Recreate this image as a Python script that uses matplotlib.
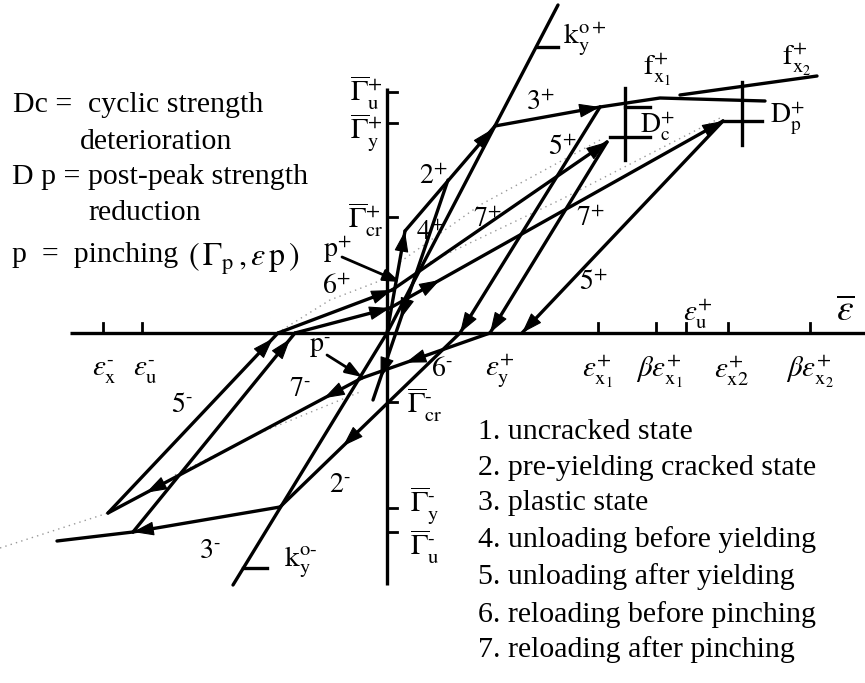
"""Hysteresis rule schematic: stress-strain loops with stage labels."""

import matplotlib

matplotlib.use("Agg")

import matplotlib.pyplot as plt
import numpy as np

plt.rcParams["font.family"] = "Liberation Serif"
plt.rcParams["mathtext.fontset"] = "stix"

# drawing units: normalised strain to the right, normalised stress up,
# origin where the two axes cross

# initial stiffness lines
stiff_pos = [(0.0, 0.0), (1.71, 3.28)]
stiff_neg = [(0.0, 0.0), (-1.54, -2.52)]

# positive side
uncracked_p = [(0.0, 0.0), (0.18, 1.02)]
cracked_p = [(0.18, 1.02), (1.08, 2.07)]
unload_pre_yield_p = [(0.61, 1.53), (-0.14, -0.67)]
plastic_p = [(1.08, 2.07), (2.13, 2.26)]
envelope_p = [(2.13, 2.26), (2.73, 2.35), (3.78, 2.32)]
envelope_fx2 = [(2.93, 2.38), (4.30, 2.57)]
unload_p_a = [(2.13, 2.26), (0.73, 0.0)]
unload_p_b = [(2.20, 1.91), (1.03, 0.0)]
unload_p_c = [(3.36, 2.12), (1.35, 0.0)]
reload_pre_pinch_p_a = [(-1.09, 0.0), (0.05, 0.43)]
reload_pre_pinch_p_b = [(-0.92, 0.0), (0.03, 0.25)]
reload_post_pinch_p_a = [(0.05, 0.43), (2.20, 1.91)]
reload_post_pinch_p_b = [(0.03, 0.25), (3.36, 2.12)]

# negative side
cracked_n = [(0.73, 0.0), (-1.07, -1.74)]
reload_pre_pinch_n = [(1.03, 0.0), (-0.25, -0.45)]
reload_post_pinch_n = [(-0.25, -0.45), (-2.79, -1.80)]
plastic_n = [(-1.07, -1.74), (-2.54, -1.99)]
envelope_n = [(-2.54, -1.99), (-3.30, -2.08)]
unload_n_a = [(-2.79, -1.80), (-1.09, 0.0)]
unload_n_b = [(-2.54, -1.99), (-0.92, 0.0)]

# faint dotted envelopes
dotted_paths = [
    [(-3.87, -2.15), (-2.79, -1.80)],
    [(-2.12, -1.42), (-1.25, -0.99), (-0.27, -0.59)],
    [(-1.05, 0.03), (-0.57, 0.33), (0.08, 0.58)],
    [(0.13, 0.71), (0.93, 1.28), (2.13, 1.93)],
    [(0.43, 0.71), (1.73, 1.33), (3.33, 2.15)],
]

# (path, fractions along it where an arrowhead tip sits)
solid_paths = [
    (stiff_pos, []),
    (stiff_neg, []),
    (uncracked_p, [1.0]),
    (cracked_p, [0.97]),
    (unload_pre_yield_p, [0.63, 0.9]),
    (plastic_p, [1.0]),
    (envelope_p, []),
    (envelope_fx2, []),
    (unload_p_a, [1.0]),
    (unload_p_b, [1.0]),
    (unload_p_c, [1.0]),
    (reload_pre_pinch_p_a, [1.0]),
    (reload_pre_pinch_p_b, [1.0]),
    (reload_post_pinch_p_a, [1.0]),
    (reload_post_pinch_p_b, [0.15, 1.0]),
    (cracked_n, [0.65]),
    (reload_pre_pinch_n, [0.66]),
    (reload_post_pinch_n, [0.15, 0.85]),
    (plastic_n, [1.0]),
    (envelope_n, []),
    (unload_n_a, [0.97]),
    (unload_n_b, [0.97]),
]

# axis ticks
strain_ticks = [-2.84, -2.45, 2.11, 2.69, 2.99, 3.41, 4.23]
stress_ticks = [2.41, 2.10, 1.16, -0.69, -1.75, -1.99]

strain_labels = [
    (-2.83, r"$\varepsilon_{\mathrm{x}}^{\text{-}}$"),
    (-2.42, r"$\varepsilon_{\mathrm{u}}^{\text{-}}$"),
    (1.13, r"$\varepsilon_{\mathrm{y}}^{+}$"),
    (2.11, r"$\varepsilon_{\mathrm{x}_1}^{+}$"),
    (2.72, r"$\beta\varepsilon_{\mathrm{x}_1}^{+}$"),
    (3.44, r"$\varepsilon_{\mathrm{x2}}^{+}$"),
    (4.23, r"$\beta\varepsilon_{\mathrm{x}_2}^{+}$"),
]
stress_labels_left = [
    (2.40, r"$\overline{\Gamma}_{\mathrm{u}}^{+}$"),
    (2.01, r"$\overline{\Gamma}_{\mathrm{y}}^{+}$"),
    (1.13, r"$\overline{\Gamma}_{\mathrm{cr}}^{+}$"),
]
stress_labels_right = [
    (-0.72, r"$\overline{\Gamma}_{\mathrm{cr}}^{\text{-}}$"),
    (-1.72, r"$\overline{\Gamma}_{\mathrm{y}}^{\text{-}}$"),
    (-2.14, r"$\overline{\Gamma}_{\mathrm{u}}^{\text{-}}$"),
]

stage_labels = [
    (1.53, 2.30, "3", "+"), (0.46, 1.56, "2", "+"), (0.43, 1.00, "4", "+"),
    (1.75, 1.85, "5", "+"), (1.00, 1.13, "7", "+"), (2.03, 1.14, "7", "+"),
    (2.06, 0.50, "5", "+"), (-0.51, 0.46, "6", "+"), (0.55, -0.37, "6", r"\text{-}"),
    (-0.87, -0.56, "7", r"\text{-}"), (-2.05, -0.72, "5", r"\text{-}"),
    (-0.47, -1.53, "2", r"\text{-}"), (-1.77, -2.19, "3", r"\text{-}"),
]

notes = [
    "1. uncracked state",
    "2. pre-yielding cracked state",
    "3. plastic state",
    "4. unloading before yielding",
    "5. unloading after yielding",
    "6. reloading before pinching",
    "7. reloading after pinching",
]
note_rows = [-0.99, -1.35, -1.70, -2.07, -2.44, -2.82, -3.17]

LW = 2.4
INK = "black"


def arrow_tip(ax, path, frac):
    pts = np.asarray(path, dtype=float)
    seg = np.diff(pts, axis=0)
    lens = np.hypot(seg[:, 0], seg[:, 1])
    s = frac * lens.sum()
    i = min(np.searchsorted(np.cumsum(lens), s), len(seg) - 1)
    s0 = s - (np.cumsum(lens)[i] - lens[i])
    d = seg[i] / lens[i]
    tip = pts[i] + d * s0
    tail = tip - d * 0.2
    ax.annotate(
        "",
        xy=tip,
        xytext=tail,
        arrowprops=dict(
            arrowstyle="-|>,head_length=0.95,head_width=0.32",
            mutation_scale=14,
            lw=0.8,
            color=INK,
            shrinkA=0,
            shrinkB=0,
        ),
    )


fig = plt.figure(figsize=(8.65, 6.83), dpi=100)
ax = fig.add_axes([0, 0, 1, 1])
ax.set_xlim(-3.87, 4.78)
ax.set_ylim(-3.50, 3.33)
ax.axis("off")

# axes
ax.plot([-3.17, 4.78], [0, 0], color=INK, lw=2.4, solid_capstyle="butt")
ax.plot([0, 0], [2.45, -2.52], color=INK, lw=2.4, solid_capstyle="butt")
for x in strain_ticks:
    ax.plot([x, x], [0, 0.10], color=INK, lw=2.0)
for y in stress_ticks:
    ax.plot([0, 0.10], [y, y], color=INK, lw=2.0)

for path in dotted_paths:
    p = np.asarray(path)
    ax.plot(p[:, 0], p[:, 1], color="0.6", lw=1.0, ls=(0, (1, 3)))

for path, fracs in solid_paths:
    p = np.asarray(path)
    ax.plot(p[:, 0], p[:, 1], color=INK, lw=LW, solid_capstyle="round")
    for f in fracs:
        arrow_tip(ax, path, f)

# degradation markers and stiffness ticks
marks = [
    ([2.38, 2.38], [2.45, 1.73]),
    ([2.23, 2.63], [1.96, 1.96]),
    ([2.38, 2.63], [2.26, 2.26]),
    ([3.55, 3.55], [2.51, 1.88]),
    ([3.36, 3.75], [2.12, 2.12]),
    ([1.51, 1.71], [2.86, 2.86]),
    ([-1.44, -1.20], [-2.35, -2.35]),
]
for xs, ys in marks:
    ax.plot(xs, ys, color=INK, lw=LW)

# pinching pointers
for tail, tip in [((-0.45, 0.76), (0.13, 0.51)), ((-0.60, -0.22), (-0.25, -0.44))]:
    ax.annotate(
        "",
        xy=tip,
        xytext=tail,
        arrowprops=dict(arrowstyle="-|>,head_length=0.7,head_width=0.25",
                        mutation_scale=14, lw=2.0, color=INK, shrinkA=0, shrinkB=0),
    )

tk = dict(ha="center", va="center", color=INK)
for x, s in strain_labels:
    ax.text(x, -0.39, s, fontsize=21, **tk)
ax.text(3.11, 0.18, r"$\varepsilon_{\mathrm{u}}^{+}$", fontsize=21, **tk)
ax.text(4.58, 0.21, r"$\overline{\varepsilon}$", fontsize=27, **tk)
for y, s in stress_labels_left:
    ax.text(-0.21, y, s, fontsize=21, **tk)
for y, s in stress_labels_right:
    ax.text(0.38, y, s, fontsize=21, **tk)

ax.text(1.98, 2.93, r"$\mathrm{k}_{\mathrm{y}}^{\mathrm{o}+}$", fontsize=21, **tk)
ax.text(-0.87, -2.29, r"$\mathrm{k}_{\mathrm{y}}^{\mathrm{o}\text{-}}$", fontsize=21, **tk)
ax.text(2.70, 2.63, r"$\mathrm{f}_{\mathrm{x}_1}^{+}$", fontsize=21, **tk)
ax.text(4.10, 2.73, r"$\mathrm{f}_{\mathrm{x}_2}^{+}$", fontsize=21, **tk)
ax.text(2.70, 2.06, r"$\mathrm{D}_{\mathrm{c}}^{+}$", fontsize=20, **tk)
ax.text(4.00, 2.15, r"$\mathrm{D}_{\mathrm{p}}^{+}$", fontsize=20, **tk)
ax.text(-0.50, 0.83, r"$\mathrm{p}^{+}$", fontsize=20, **tk)
ax.text(-0.67, -0.15, r"$\mathrm{p}^{\text{-}}$", fontsize=20, **tk)

for x, y, n, sign in stage_labels:
    ax.text(x, y, rf"${n}^{{{sign}}}$", fontsize=20, **tk)

# definitions block
lt = dict(ha="left", va="center", fontsize=21.5, color=INK)
ax.text(-3.74, 2.28, "Dc =", **lt)
ax.text(-2.99, 2.28, "cyclic strength", **lt)
ax.text(-3.07, 1.91, "deterioration", **lt)
ax.text(-3.75, 1.56, "D p =", **lt)
ax.text(-2.99, 1.56, "post-peak strength", **lt)
ax.text(-2.99, 1.20, "reduction", **lt)
ax.text(-3.75, 0.78, "p  =  pinching", **lt)
ax.text(-1.99, 0.74, r"$(\,\Gamma_{\mathrm{p}}\,,\varepsilon\,\mathrm{p}\,)$",
        ha="left", va="center", fontsize=23, color=INK)

for y, s in zip(note_rows, notes):
    ax.text(0.91, y, s, **lt)

fig.savefig("out.png", dpi=100)
plt.close(fig)
